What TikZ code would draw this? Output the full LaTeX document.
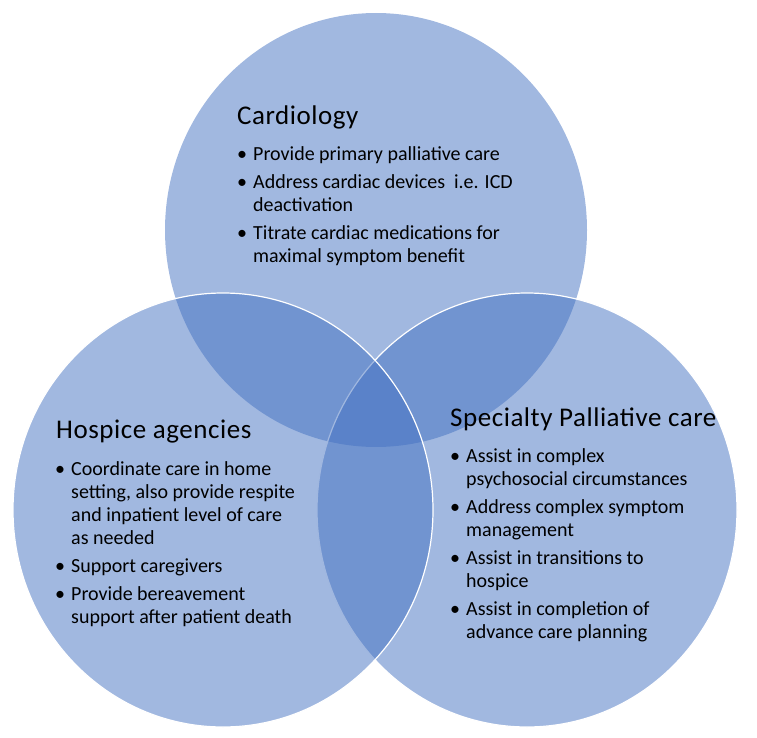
\documentclass[tikz,border=0pt]{standalone}
\usepackage{fontspec}
\setmainfont{Carlito}
\definecolor{vennblue}{RGB}{67,113,193}
\tikzset{
  venn/.style={fill=vennblue, fill opacity=0.5},
  rim/.style={draw=white, line width=1.2pt},
  heading/.style={anchor=base west, inner sep=0pt,
    font=\fontsize{27}{32}\selectfont\addfontfeature{LetterSpace=2}},
  points/.style={anchor=base west, inner sep=0pt, align=left,
    font=\fontsize{20}{23}\selectfont},
}
\newcommand{\bul}{\makebox[16pt][l]{\textbullet}}
\newcommand{\cont}{\hspace*{16pt}}
\begin{document}
\begin{tikzpicture}[x=1pt,y=-1pt]
  \useasboundingbox (0,0) rectangle (757,738);
  % the three circles
  \path[venn] (376,230) ellipse [x radius=211, y radius=217];
  \path[venn,rim] (527,510) ellipse [x radius=210, y radius=217];
  \path[venn,rim] (223,510) ellipse [x radius=210, y radius=217];
  % texts (lists sit on the baseline of their last line)
  \node[heading] (cardiology) at (237,125) {Cardiology};
  \node[points] (cardiologylist) at (237,262) {%
    \bul Provide primary palliative care\\[4.8pt]
    \bul Address cardiac devices\ \ i.e. ICD\\
    \cont deactivation\\[4.8pt]
    \bul Titrate cardiac medications for\\
    \cont maximal symptom benefit};
  \node[heading] (hospice) at (56,438) {Hospice agencies};
  \node[points] (hospicelist) at (55,623) {%
    \bul Coordinate care in home\\
    \cont setting, also provide respite\\
    \cont and inpatient level of care\\
    \cont as needed\\[4.8pt]
    \bul Support caregivers\\[4.8pt]
    \bul Provide bereavement\\
    \cont support after patient death};
  \node[heading] (palliative) at (450,426) {Specialty Palliative care};
  \node[points] (palliativelist) at (450,638) {%
    \bul Assist in complex\\
    \cont psychosocial circumstances\\[4.8pt]
    \bul Address complex symptom\\
    \cont management\\[4.8pt]
    \bul Assist in transitions to\\
    \cont hospice\\[4.8pt]
    \bul Assist in completion of\\
    \cont advance care planning};
\end{tikzpicture}
\end{document}
